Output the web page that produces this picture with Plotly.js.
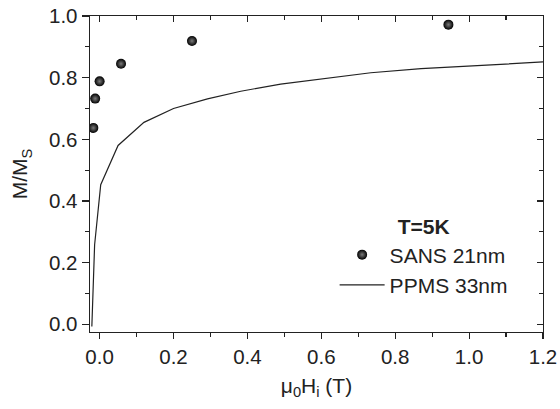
<!DOCTYPE html>
<html>
<head>
<meta charset="utf-8">
<script src="https://cdn.plot.ly/plotly-3.0.1.min.js"></script>
<style>
  html, body { margin: 0; padding: 0; background: #fff; }
  #chart { width: 560px; height: 409px; }
</style>
</head>
<body>
<div id="chart"></div>
<script>
// SANS data: reduced magnetisation vs internal field
const sansH = [-0.017, -0.012, 0.0, 0.058, 0.25, 0.944];
const sansM = [0.637, 0.732, 0.788, 0.845, 0.919, 0.972];

// PPMS magnetisation curve
const ppmsH = [-0.021, -0.0135, 0.003, 0.05, 0.12, 0.20, 0.292, 0.382, 0.49, 0.60, 0.734, 0.87, 1.005, 1.2];
const ppmsM = [-0.007, 0.258, 0.453, 0.58, 0.655, 0.70, 0.731, 0.756, 0.779, 0.796, 0.816, 0.829, 0.839, 0.851];

const seriesNames = ['SANS 21nm', 'PPMS 33nm'];
const legendTitle = 'T=5K';

const xRange = [-0.026, 1.2];
const yRange = [-0.025, 1.0];

const FONT = 'Liberation Sans, Arial, sans-serif';
const INK = '#222';

const traces = [
  {
    x: sansH, y: sansM, name: seriesNames[0],
    type: 'scatter', mode: 'markers',
    marker: {
      size: 10, color: '#000',
      gradient: { type: 'radial', color: '#7a7a7a' },
      line: { width: 0 }
    }
  },
  {
    x: ppmsH, y: ppmsM, name: seriesNames[1],
    type: 'scatter', mode: 'lines',
    line: { color: INK, width: 1.2 }
  }
];

// left/bottom axes: ticks outside; top/right axes: ticks inside, no labels
const baseAxis = {
  showline: true, linecolor: INK, linewidth: 1.4,
  showgrid: false, zeroline: false,
  tickcolor: INK, tickwidth: 1.2,
  dtick: 0.2, tick0: 0, tickformat: '.1f',
  tickfont: { family: FONT, size: 20.5, color: INK }
};

const layout = {
  width: 560, height: 409,
  margin: { l: 90, r: 17, t: 16, b: 77 },
  paper_bgcolor: '#fff', plot_bgcolor: '#fff',
  font: { family: FONT, color: INK },
  showlegend: true,
  xaxis: Object.assign({}, baseAxis, {
    range: xRange, ticks: 'outside', ticklen: 6,
    minor: { dtick: 0.1, ticks: 'outside', ticklen: 4, tickcolor: INK, tickwidth: 1.2 },
    title: { text: 'μ<sub>0</sub>H<sub>i</sub> (T)', font: { family: FONT, size: 21, color: INK }, standoff: 11 }
  }),
  yaxis: Object.assign({}, baseAxis, {
    range: yRange, ticks: 'outside', ticklen: 7,
    minor: { dtick: 0.1, ticks: 'outside', ticklen: 4, tickcolor: INK, tickwidth: 1.2 },
    title: { text: 'M/M<sub>S</sub>', font: { family: FONT, size: 21, color: INK }, standoff: 15 }
  }),
  xaxis2: Object.assign({}, baseAxis, {
    overlaying: 'x', side: 'top', matches: 'x', range: xRange,
    ticks: 'inside', ticklen: 6, showticklabels: false,
    minor: { dtick: 0.1, ticks: 'inside', ticklen: 4, tickcolor: INK, tickwidth: 1.2 }
  }),
  yaxis2: Object.assign({}, baseAxis, {
    overlaying: 'y', side: 'right', matches: 'y', range: yRange,
    ticks: 'inside', ticklen: 6, showticklabels: false,
    minor: { dtick: 0.1, ticks: 'inside', ticklen: 4, tickcolor: INK, tickwidth: 1.2 }
  }),
  legend: {
    x: 0.54, y: 0.395, xanchor: 'left', yanchor: 'top',
    bgcolor: 'rgba(0,0,0,0)', borderwidth: 0,
    itemwidth: 45, tracegroupgap: 0,
    font: { family: FONT, size: 21, color: INK },
    title: { text: '<b>' + legendTitle + '</b>', side: 'top center', font: { family: FONT, size: 21, color: INK } }
  }
};

// invisible helper trace so the top/right axes get drawn
traces.push({
  x: xRange, y: yRange, xaxis: 'x2', yaxis: 'y2',
  type: 'scatter', mode: 'markers', marker: { opacity: 0 },
  showlegend: false, hoverinfo: 'skip'
});

Plotly.newPlot('chart', traces, layout, { staticPlot: true, displayModeBar: false });
</script>
</body>
</html>
